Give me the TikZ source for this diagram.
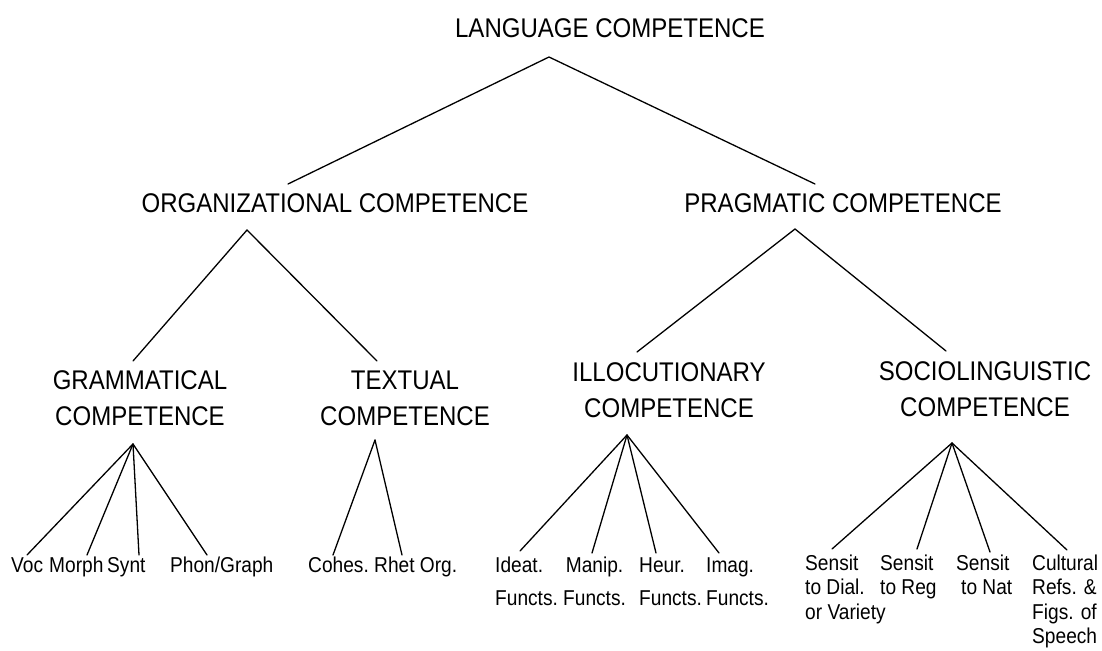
\documentclass[tikz,border=0pt]{standalone}
\usepackage{fontspec}
\setmainfont[FakeStretch=0.89]{Liberation Sans}
\begin{document}
\begin{tikzpicture}[x=1pt,y=-1pt,
  big/.style={font=\fontsize{27}{36}\selectfont, inner sep=0pt, anchor=base},
  leafA/.style={font=\fontsize{21.5}{33}\selectfont, inner sep=0pt, anchor=base west},
  leafB/.style={font=\fontsize{21.5}{24.5}\selectfont, inner sep=0pt, anchor=base west},
  branch/.style={line width=1.3pt, line cap=round, line join=miter}]
\useasboundingbox (0,0) rectangle (1102,650);

% ---- labels ----
\node[big] (lang) at (610,38) {LANGUAGE COMPETENCE};
\node[big] (org) at (335,212) {ORGANIZATIONAL COMPETENCE};
\node[big] (prag) at (843,212) {PRAGMATIC COMPETENCE};
\node[big] (gram) at (140,389) {\begin{tabular}[t]{@{}c@{}}GRAMMATICAL\\COMPETENCE\end{tabular}};
\node[big] (text) at (405,389) {\begin{tabular}[t]{@{}c@{}}TEXTUAL\\COMPETENCE\end{tabular}};
\node[big] (illoc) at (669,381) {\begin{tabular}[t]{@{}c@{}}ILLOCUTIONARY\\COMPETENCE\end{tabular}};
\node[big] (socio) at (985,380) {\begin{tabular}[t]{@{}c@{}}SOCIOLINGUISTIC\\COMPETENCE\end{tabular}};

\node[leafA] (voc) at (11,572) {Voc};
\node[leafA] (morph) at (49,572) {Morph};
\node[leafA] (synt) at (107,572) {Synt};
\node[leafA] (phon) at (170,572) {Phon/Graph};
\node[leafA] (cohes) at (308,572) {Cohes.};
\node[leafA] (rhet) at (374,572) {Rhet Org.};
\node[leafA] (ideat) at (495,572) {\begin{tabular}[t]{@{}l@{}}Ideat.\\Functs.\end{tabular}};
\node[leafA] (manip) at (563,572) {\begin{tabular}[t]{@{}c@{}}Manip.\\Functs.\end{tabular}};
\node[leafA] (heur) at (639,572) {\begin{tabular}[t]{@{}l@{}}Heur.\\Functs.\end{tabular}};
\node[leafA] (imag) at (706,572) {\begin{tabular}[t]{@{}l@{}}Imag.\\Functs.\end{tabular}};
\node[leafB] (dial) at (805,570) {\begin{tabular}[t]{@{}l@{}}Sensit\\to Dial.\\or Variety\end{tabular}};
\node[leafB] (reg) at (880,570) {\begin{tabular}[t]{@{}l@{}}Sensit\\to Reg\end{tabular}};
\node[leafB] (nat) at (956,570) {\begin{tabular}[t]{@{}l@{}}Sensit\\\hspace*{5pt}to Nat\end{tabular}};
\node[leafB] (cult) at (1032,570) {\begin{tabular}[t]{@{}l@{}}Cultural\\Refs. \&\\Figs. of\\Speech\end{tabular}};

% ---- branch points ----
\coordinate (lang-a) at (549,57);
\coordinate (org-t) at (288,184);
\coordinate (prag-t) at (815,184);
\coordinate (org-a) at (247,230);
\coordinate (gram-t) at (133,361);
\coordinate (text-t) at (377,361);
\coordinate (prag-a) at (795,229);
\coordinate (illoc-t) at (637,352);
\coordinate (socio-t) at (946,351);
\coordinate (gram-a) at (133,444);
\coordinate (voc-t) at (27,555);
\coordinate (morph-t) at (87,555);
\coordinate (synt-t) at (139,555);
\coordinate (phon-t) at (207,555);
\coordinate (text-a) at (375,440);
\coordinate (cohes-t) at (333,555);
\coordinate (rhet-t) at (402,555);
\coordinate (illoc-a) at (627,435);
\coordinate (ideat-t) at (520,551);
\coordinate (manip-t) at (592,553);
\coordinate (heur-t) at (656,553);
\coordinate (imag-t) at (719,553);
\coordinate (socio-a) at (952,443);
\coordinate (dial-t) at (832,549);
\coordinate (reg-t) at (917,549);
\coordinate (nat-t) at (990,552);
\coordinate (cult-t) at (1067,550);

% ---- connectors ----
\draw[branch] (org-t) -- (lang-a) -- (prag-t);
\draw[branch] (gram-t) -- (org-a) -- (text-t);
\draw[branch] (illoc-t) -- (prag-a) -- (socio-t);
\foreach \t in {voc,morph,synt,phon} \draw[branch] (gram-a) -- (\t-t);
\foreach \t in {cohes,rhet} \draw[branch] (text-a) -- (\t-t);
\foreach \t in {ideat,manip,heur,imag} \draw[branch] (illoc-a) -- (\t-t);
\foreach \t in {dial,reg,nat,cult} \draw[branch] (socio-a) -- (\t-t);
\end{tikzpicture}
\end{document}
